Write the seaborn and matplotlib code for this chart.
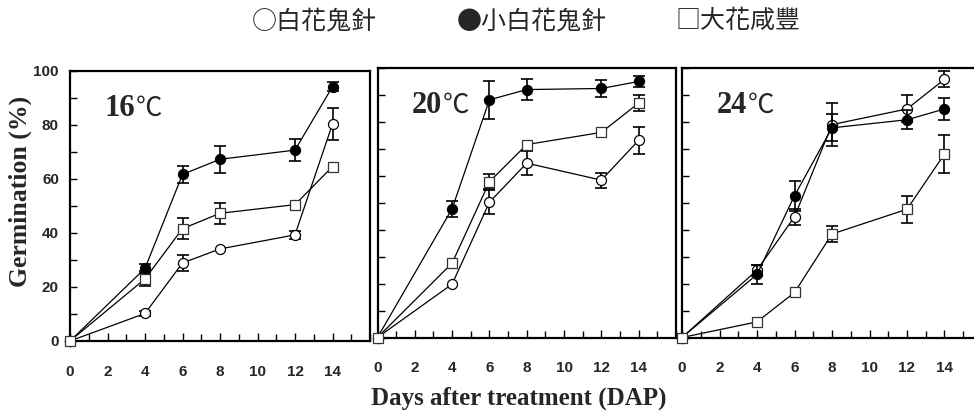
import matplotlib
matplotlib.use("Agg")
import matplotlib.pyplot as plt
import numpy as np
import pandas as pd
import seaborn as sns

# Germination time courses of three Asteraceae weeds at three temperatures
days = [0, 4, 6, 8, 12, 14]
temps = ["16", "20", "24"]
species = ["白花鬼針", "小白花鬼針", "大花咸豐"]

# mean germination (%) per temperature, species order as in `species`
g16_white = [0, 10.2, 28.9, 34.1, 39.3, 80.4]
g16_small = [0, 26.9, 61.7, 67.3, 70.7, 94.2]
g16_big = [0, 23.0, 41.6, 47.3, 50.5, 64.6]
g20_white = [0, 19.8, 50.2, 64.7, 58.4, 73.2]
g20_small = [0, 47.8, 88.2, 92.0, 92.4, 95.0]
g20_big = [0, 27.6, 57.8, 71.6, 76.1, 87.0]
g24_white = [0, 25.0, 44.8, 79.0, 84.8, 95.8]
g24_small = [0, 23.4, 52.6, 77.8, 80.8, 84.8]
g24_big = [0, 5.8, 16.7, 38.4, 47.6, 68.1]

# standard errors (0 where no bar is drawn)
e16_white = [0, 1.0, 3.0, 0, 1.6, 6.0]
e16_small = [0, 1.8, 3.0, 5.0, 4.0, 1.7]
e16_big = [0, 2.8, 4.0, 3.8, 0, 0]
e20_white = [0, 0, 4.5, 4.5, 2.8, 5.0]
e20_small = [0, 3.0, 7.0, 4.0, 3.0, 2.0]
e20_big = [0, 0, 2.8, 0, 0, 3.0]
e24_white = [0, 2.0, 3.0, 8.0, 5.0, 3.0]
e24_small = [0, 3.5, 5.5, 5.0, 3.5, 4.0]
e24_big = [0, 0, 0, 3.0, 5.0, 7.0]

means = {
    "16": [g16_white, g16_small, g16_big],
    "20": [g20_white, g20_small, g20_big],
    "24": [g24_white, g24_small, g24_big],
}
errors = {
    "16": [e16_white, e16_small, e16_big],
    "20": [e20_white, e20_small, e20_big],
    "24": [e24_white, e24_small, e24_big],
}

rows = []
for t in temps:
    for sp, m, e in zip(species, means[t], errors[t]):
        for d, v, s in zip(days, m, e):
            rows.append({"temp": t, "species": sp, "day": d, "germ": v, "se": s})
df = pd.DataFrame(rows)

sns.set_theme(style="ticks")
plt.rcParams["font.family"] = ["Liberation Sans", "DejaVu Sans"]

marker_style = {
    "白花鬼針": dict(marker="o", markerfacecolor="white", markeredgecolor="black"),
    "小白花鬼針": dict(marker="o", markerfacecolor="black", markeredgecolor="black"),
    "大花咸豐": dict(marker="s", markerfacecolor="white", markeredgecolor="#333333"),
}

W, H = 974, 417
fig = plt.figure(figsize=(W / 100, H / 100), dpi=100)

# panel boxes in pixels: left, top, width, height
boxes = [(70, 71, 300, 270), (377.5, 68, 298.5, 269.5), (682, 68, 300, 269.5)]

tick_family = ["Liberation Sans Narrow", "Liberation Sans"]

axes = []
for i, (t, (l, tp, w, h)) in enumerate(zip(temps, boxes)):
    ax = fig.add_axes([l / W, 1 - (tp + h) / H, w / W, h / H])
    axes.append(ax)
    sub = df[df["temp"] == t]
    for k, sp in enumerate(species):
        d = sub[sub["species"] == sp]
        sns.lineplot(data=d, x="day", y="germ", ax=ax, color="black",
                     linewidth=0.9, markersize=7.2, markeredgewidth=0.9,
                     estimator=None, legend=False, zorder=3 + k,
                     clip_on=False, **marker_style[sp])
        has = d[d["se"] > 0]
        ax.errorbar(has["day"], has["germ"], yerr=has["se"], fmt="none",
                    ecolor="black", elinewidth=1.2, capsize=4, capthick=1.2,
                    zorder=2 + k, clip_on=False)

    ax.set_xlim(0, 16)
    ax.set_ylim(0, 100)
    ax.set_xticks(np.arange(0, 15, 2))
    ax.set_xticks(np.arange(0, 17, 1), minor=True)
    ax.set_yticks(np.arange(0, 101, 20))
    ax.set_yticks(np.arange(0, 101, 10), minor=True)
    ax.tick_params(axis="both", which="both", direction="in", width=1.0,
                   color="black", top=False, right=False)
    ax.tick_params(axis="x", which="major", length=6, pad=17, labelsize=11)
    ax.tick_params(axis="x", which="minor", length=5)
    ax.tick_params(axis="y", which="both", length=5, pad=8, labelsize=11)
    for lab in ax.get_xticklabels():
        lab.set_fontfamily(tick_family)
        lab.set_fontweight("bold")
    if i == 0:
        for lab in ax.get_yticklabels():
            lab.set_fontfamily(tick_family)
            lab.set_fontweight("bold")
    else:
        ax.set_yticklabels([])
    for spine in ax.spines.values():
        spine.set_visible(True)
        spine.set_linewidth(1.6)
        spine.set_color("black")
    ax.set_xlabel("")
    ax.set_ylabel("")
    ax.set_facecolor("white")

    # temperature label inside each panel
    ax.text(0.115, 0.86, t, transform=ax.transAxes, fontsize=22,
            fontweight="bold", family=["Liberation Serif"], ha="left",
            va="center")
    ax.text(0.22, 0.86, "℃", transform=ax.transAxes, fontsize=19,
            family=["Noto Sans CJK TC", "DejaVu Sans"], ha="left",
            va="center")

axes[0].set_ylabel("Germination (%)", fontsize=18.5, fontweight="bold",
                   family=["Liberation Serif"], va="center")
axes[0].yaxis.set_label_coords((20 - 70) / 300, (341 - 191) / 270)

fig.text(519 / W, 1 - 398 / H, "Days after treatment (DAP)", fontsize=18,
         fontweight="bold", family=["Liberation Serif"], ha="center",
         va="center")

# species key along the top
key = [("○白花鬼針", 252), ("●小白花鬼針", 457), ("□大花咸豐", 675)]
for label, x in key:
    fig.text(x / W, 1 - 21 / H, label, fontsize=18,
             family=["Noto Sans CJK TC", "DejaVu Sans"], ha="left",
             va="center")

fig.savefig("out.png", dpi=100, facecolor="white")
